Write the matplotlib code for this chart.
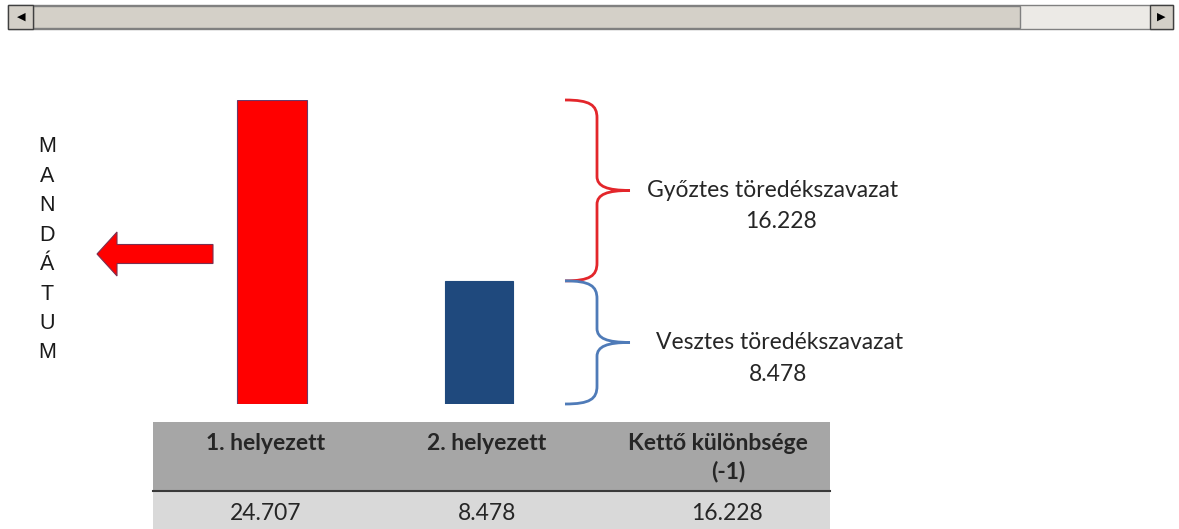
import matplotlib
matplotlib.use('Agg')
import matplotlib.pyplot as plt
from matplotlib.patches import Rectangle, FancyArrow, PathPatch
from matplotlib.path import Path
from matplotlib.transforms import IdentityTransform

# data
places = ['1. helyezett', '2. helyezett']
votes = [24.707, 8.478]
diff_header = ['Kettő különbsége', '(-1)']
difference = 16.228
winner_label = 'Győztes töredékszavazat'
loser_label = 'Vesztes töredékszavazat'
side_word = 'MANDÁTUM'
bar_colors = ['#FF0000', '#1F497D']

W, H = 1179, 529
plt.rcParams['font.family'] = ['Lato', 'DejaVu Sans']
fig = plt.figure(figsize=(W / 100, H / 100), dpi=100)
fig.patch.set_facecolor('white')


def fx(x):
    return x / W


def fy(y):
    # y measured from the top of the picture
    return 1 - y / H


def hu(v):
    return '{:.3f}'.format(v)


# bars (schematic, slightly compressed scale as in the slide)
ax = fig.add_axes([0, fy(404), 1, (404 - 100) / H])
ax.set_yscale('function', functions=(lambda v: v ** 0.845, lambda v: v ** (1 / 0.845)))
ax.bar([272, 479], votes, width=[70, 68], color=bar_colors,
       edgecolor=['#6a3a6a', '#1F497D'], linewidth=0.8)
ax.set_xlim(0, W)
ax.set_ylim(0, votes[0])
ax.axis('off')


def ypix(v):
    return ax.transData.transform((0, v))[1]


def brace(v0, v1, color):
    y0, y1 = ypix(v0), ypix(v1)
    ym = (y0 + y1) / 2
    xa, xb, xc = 565, 597, 630
    verts = [(xa, y1), (590, y1), (xb, y1 - 5), (xb, y1 - 18),
             (xb, ym + 14),
             (xb, ym + 4), (607, ym), (xc, ym),
             (607, ym), (xb, ym - 4), (xb, ym - 14),
             (xb, y0 + 18),
             (xb, y0 + 5), (590, y0), (xa, y0)]
    codes = [Path.MOVETO] + [Path.CURVE4] * 3 + [Path.LINETO] + [Path.CURVE4] * 6 + \
            [Path.LINETO] + [Path.CURVE4] * 3
    fig.add_artist(PathPatch(Path(verts, codes), facecolor='none', edgecolor=color,
                             linewidth=2.0, transform=IdentityTransform()))
    return ym


ym_win = brace(votes[1], votes[0], '#E3262B')
ym_los = brace(0, votes[1], '#4F7BB8')

txt = '#262626'
fs = 16.5
fig.text(fx(773), ym_win / H, winner_label, ha='center', va='center', fontsize=fs, color=txt)
fig.text(fx(781), ym_win / H - 31 / H, hu(difference), ha='center', va='center', fontsize=fs, color=txt)
fig.text(fx(780), ym_los / H, loser_label, ha='center', va='center', fontsize=fs, color=txt)
fig.text(fx(778), ym_los / H - 32 / H, hu(votes[1]), ha='center', va='center', fontsize=fs, color=txt)

# arrow towards the seat label
fig.add_artist(FancyArrow(fx(213), fy(254), -(213 - 97) / W, 0, width=19 / H,
                          head_width=44 / H, head_length=20 / W,
                          length_includes_head=True, transform=fig.transFigure,
                          facecolor='#FF0000', edgecolor='#7a3050', linewidth=0.8))

for i, ch in enumerate(side_word):
    fig.text(fx(47), fy(147 + i * 29.4), ch, ha='center', va='center', fontsize=15.5,
             family=['Liberation Sans', 'DejaVu Sans'], color='#1a1a1a')

# table under the bars
fig.add_artist(Rectangle((fx(153), fy(491)), fx(830 - 153), (491 - 422) / H,
                         transform=fig.transFigure, facecolor='#A6A6A6', edgecolor='none'))
fig.add_artist(Rectangle((fx(153), 0), fx(830 - 153), fy(491),
                         transform=fig.transFigure, facecolor='#D9D9D9', edgecolor='none'))
fig.add_artist(plt.Line2D([fx(153), fx(830)], [fy(491), fy(491)], transform=fig.transFigure,
                          color='#3a3a3a', linewidth=1.5))

col_x = [266, 487, 727]
for x, name in zip(col_x[:2], places):
    fig.text(fx(x), fy(443), name, ha='center', va='center', fontsize=16.5,
             fontweight='bold', color=txt)
for i, line in enumerate(diff_header):
    fig.text(fx(718 + 10 * i), fy(443 + 28 * i), line, ha='center', va='center', fontsize=16.5,
             fontweight='bold', color=txt)
for x, v in zip(col_x, votes + [difference]):
    fig.text(fx(x), fy(513), hu(v), ha='center', va='center', fontsize=16.5, color=txt)

# window scrollbar at the top of the screenshot
def box(x0, y0, x1, y1, fc, ec='#808080'):
    fig.add_artist(Rectangle((fx(x0), fy(y1)), fx(x1 - x0), (y1 - y0) / H,
                             transform=fig.transFigure, facecolor=fc, edgecolor=ec,
                             linewidth=1))

box(8, 5, 1173, 29, '#ECEAE6', ec='#808080')
box(33, 6, 1020, 28, '#D4D0C8')
box(8, 5, 33, 29, '#D4D0C8', ec='#404040')
box(1150, 5, 1173, 29, '#D4D0C8', ec='#404040')
fig.text(fx(21), fy(17), '◀', ha='center', va='center', fontsize=8, color='black',
         family=['DejaVu Sans'])
fig.text(fx(1161), fy(17), '▶', ha='center', va='center', fontsize=8, color='black',
         family=['DejaVu Sans'])

fig.savefig('out.png', dpi=100, facecolor='white')
